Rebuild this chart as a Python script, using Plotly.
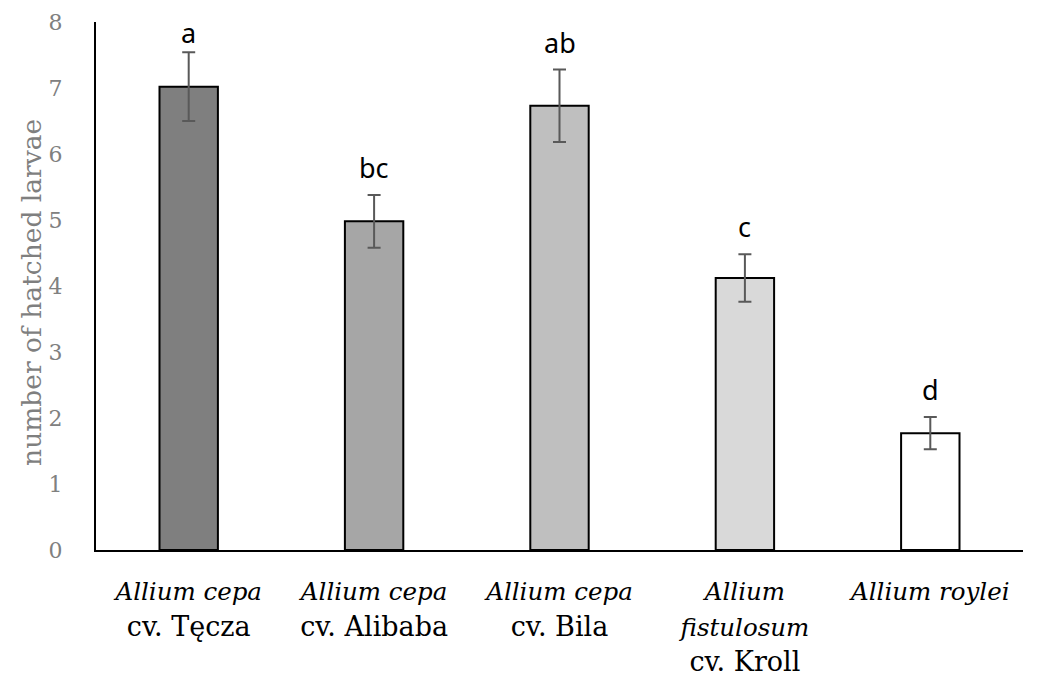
import plotly.graph_objects as go

IT = '<span style="font-size:24.5px"><i>{}</i></span>'

categories = [
    IT.format("Allium cepa") + "<br>cv. Tęcza",
    IT.format("Allium cepa") + "<br>cv. Alibaba",
    IT.format("Allium cepa") + "<br>cv. Bila",
    IT.format("Allium") + "<br>" + IT.format("fistulosum") + "<br>cv. Kroll",
    IT.format("Allium roylei"),
]
means = [7.02, 4.98, 6.73, 4.12, 1.77]
errors = [0.52, 0.40, 0.55, 0.36, 0.245]
letters = ["a", "bc", "ab", "c", "d"]
bar_colors = ["#7f7f7f", "#a6a6a6", "#bfbfbf", "#d9d9d9", "#ffffff"]
y_ticks = [0, 1, 2, 3, 4, 5, 6, 7, 8]

fig = go.Figure()
fig.add_trace(go.Bar(
    x=categories, y=means,
    marker=dict(color=bar_colors, line=dict(color="black", width=2)),
    width=0.315,
    error_y=dict(type="data", array=errors, visible=True,
                 color="#595959", thickness=2, width=6.5),
    showlegend=False,
))

for c, m, e, l in zip(categories, means, errors, letters):
    top = m + e
    fig.add_annotation(x=c, y=top, text=l, showarrow=False,
                       yanchor="bottom", yshift=(-1 if top > 7.4 else 7),
                       font=dict(family="Noto Sans", size=27, color="black"))

fig.add_annotation(xref="paper", yref="paper", x=-0.069, y=0.487,
                   text="number of hatched larvae", textangle=-90,
                   showarrow=False, xanchor="center", yanchor="middle",
                   font=dict(family="DejaVu Serif", size=26.5, color="#7f7f7f"))

fig.update_layout(
    width=1040, height=678,
    margin=dict(l=96, r=17, t=22, b=128),
    plot_bgcolor="white", paper_bgcolor="white",
    xaxis=dict(showline=True, linecolor="black", linewidth=2, showgrid=False,
               automargin=False,
               ticks="outside", ticklen=16, tickcolor="rgba(0,0,0,0)",
               tickfont=dict(family="DejaVu Serif", size=27, color="black")),
    yaxis=dict(range=[0, 8], tickvals=y_ticks, showline=True, linecolor="black",
               linewidth=2, showgrid=False, zeroline=False, automargin=False,
               ticks="outside", ticklen=27, tickcolor="rgba(0,0,0,0)",
               tickfont=dict(family="DejaVu Serif", size=22, color="#808080")),
)

fig.write_html("out.html", config={"displayModeBar": False},
               post_script="document.body.style.margin='0';")
